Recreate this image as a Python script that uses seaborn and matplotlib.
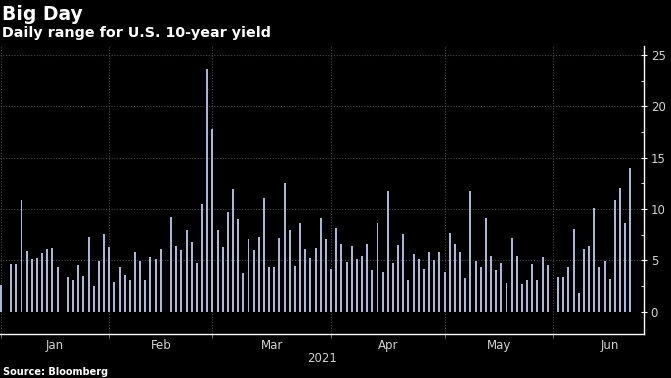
import matplotlib
matplotlib.use("Agg")
import matplotlib.pyplot as plt
import seaborn as sns
import pandas as pd
import numpy as np

# Daily range of the U.S. 10-year yield (bp), one value per weekday,
# None = market holiday (Jan 1, MLK day, Presidents' day, Memorial day)
dec_values = [2.6]
jan_values = [None, 4.65, 4.6, 10.9, 5.9, 5.1, 5.25, 5.75, 6.1, 6.25, 4.35,
              None, 3.4, 3.05, 4.55, 3.5, 7.25, 2.5, 4.95, 7.6, 6.3]
feb_values = [2.9, 4.4, 3.6, 3.1, 5.85, 4.95, 3.05, 5.35, 5.15, 6.15,
              None, 9.2, 6.4, 6.05, 8.0, 6.75, 4.75, 10.5, 23.6, 17.75]
mar_values = [8.0, 6.3, 9.75, 11.9, 9.05, 3.8, 7.1, 6.05, 7.25, 11.05,
              4.35, 4.35, 7.2, 12.55, 8.0, 4.45, 8.65, 6.1, 5.25, 6.2,
              9.15, 7.1, 4.2]
apr_values = [8.15, 6.55, 4.8, 6.4, 5.15, 5.45, 6.6, 4.05, 8.65, 3.9, 11.8,
              4.75, 6.5, 7.6, 3.05, 5.65, 5.1, 4.2, 5.85, 5.0, 5.85, 3.9]
may_values = [7.65, 6.55, 5.85, 3.3, 11.75, 4.95, 4.4, 9.1, 5.4, 4.05,
              4.75, 2.8, 7.15, 5.4, 2.7, 3.05, 4.6, 3.05, 5.35, 4.55, None]
jun_values = [3.35, 3.35, 4.4, 8.1, 1.8, 6.1, 6.35, 10.1, 4.35, 4.9, 3.2,
              10.85, 12.0, 8.6, 13.95]

y_ticks = [0, 5, 10, 15, 20, 25]
month_names = ["Jan", "Feb", "Mar", "Apr", "May", "Jun"]

BAR = "#a4b3dc"
TXT = "#d2d2d2"
GRID = "#4a4a4a"

values = dec_values + jan_values + feb_values + mar_values + apr_values + may_values + jun_values
dates = pd.bdate_range("2020-12-31", "2021-06-21")
df = pd.DataFrame({"date": dates, "pos": np.arange(len(dates)), "range": values}).dropna()

# weekday calendar used for the month boundaries
cal = pd.Series(np.arange(len(pd.bdate_range("2020-12-31", "2021-06-30"))),
                index=pd.bdate_range("2020-12-31", "2021-06-30"))
month_ends = cal.groupby(cal.index.to_period("M")).max().values
month_mids = (month_ends[:-1] + month_ends[1:]) / 2

fig = plt.figure(figsize=(6.71, 3.78), dpi=100, facecolor="black")
ax = fig.add_axes([0, 0.1151, 0.9605, 0.7632])
ax.set_facecolor("black")

sns.barplot(data=df, x="pos", y="range", native_scale=True, orient="x",
            width=0.38, color=BAR, linewidth=0, errorbar=None, ax=ax)

ax.set_xlim(-0.163, 124.74)
ax.set_ylim(-2.22, 25.87)

for yv in y_ticks[1:]:
    ax.axhline(yv, color=GRID, lw=0.8, ls=(0, (1, 1.5)), zorder=0)
for xv in month_ends[:-1]:
    ax.axvline(xv, color=GRID, lw=0.8, ls=(0, (1, 1.5)), zorder=0)

ax.yaxis.tick_right()
ax.set_yticks(y_ticks)
ax.set_yticks(np.arange(2.5, 25, 5), minor=True)
ax.tick_params(axis="y", which="major", colors="white", labelcolor=TXT,
               direction="inout", length=5, width=0.8, labelsize=8.5, pad=2)
ax.tick_params(axis="y", which="minor", colors="white", direction="in",
               length=2, width=0.6)

ax.set_xticks(month_ends[:-1])
ax.set_xticklabels([])
ax.set_xticks(month_mids, minor=True)
ax.set_xticklabels(month_names, minor=True)
ax.tick_params(axis="x", which="major", colors="#888888", direction="out",
               length=3, width=0.6)
ax.tick_params(axis="x", which="minor", length=0, labelcolor=TXT,
               labelsize=8.5, pad=3)

ax.set_xlabel("")
ax.set_ylabel("")
for side in ["left", "top"]:
    ax.spines[side].set_visible(False)
for side in ["right", "bottom"]:
    ax.spines[side].set_color("white")
    ax.spines[side].set_linewidth(1)

ax.text(0.5, -0.06, "2021", transform=ax.transAxes, ha="center", va="top",
        color=TXT, fontsize=8.5)

fig.text(2 / 671, 1 - 20 / 378, "Big Day", color="white", fontsize=13.5,
         fontweight="bold", va="baseline", ha="left")
fig.text(2 / 671, 1 - 37.5 / 378, "Daily range for U.S. 10-year yield",
         color="white", fontsize=10.3, fontweight="bold", va="baseline", ha="left")
fig.text(3 / 671, 1 - 375 / 378, "Source: Bloomberg", color="white",
         fontsize=7, fontweight="bold", va="baseline", ha="left")

fig.savefig("out.png", dpi=100, facecolor="black")
